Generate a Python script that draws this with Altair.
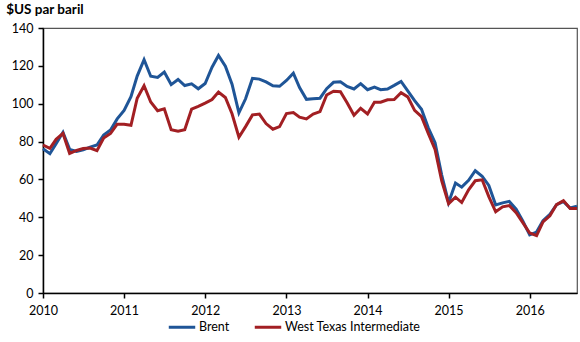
import altair as alt
import pandas as pd

months = pd.date_range("2010-01-01", "2016-08-01", freq="MS").strftime("%Y-%m-%d").tolist()

brent = [
    76.2, 73.6, 78.9, 84.9, 75.9, 74.8, 75.6, 77.1, 78.2, 83.5, 86.1, 92.0,
    96.5, 103.7, 114.6, 123.3, 114.5, 113.9, 116.7, 110.1, 112.8, 109.6, 110.5, 107.9,
    110.7, 119.3, 125.5, 119.8, 110.3, 95.2, 102.6, 113.4, 113.0, 111.5, 109.5, 109.2,
    112.3, 116.1, 108.5, 102.3, 102.6, 102.9, 107.9, 111.3, 111.6, 109.1, 107.8, 110.6,
    107.4, 108.8, 107.4, 107.8, 109.7, 111.8, 106.8, 101.6, 97.1, 87.4, 79.4, 62.3,
    47.8, 58.1, 55.9, 59.5, 64.6, 61.7, 56.8, 46.5, 47.6, 48.4, 44.3, 38.0,
    30.7, 32.2, 38.2, 41.6, 46.7, 48.3, 44.9, 45.8,
]
wti = [
    78.2, 76.4, 81.2, 84.3, 73.7, 75.3, 76.3, 76.6, 75.2, 81.9, 84.3, 89.2,
    89.2, 88.6, 102.9, 109.5, 100.9, 96.3, 97.3, 86.3, 85.5, 86.3, 97.2, 98.6,
    100.3, 102.2, 106.2, 103.3, 94.7, 82.3, 87.9, 94.1, 94.5, 89.5, 86.5, 87.9,
    94.8, 95.3, 92.9, 92.0, 94.5, 95.8, 104.6, 106.6, 106.3, 100.5, 93.9, 97.6,
    94.6, 100.8, 100.8, 102.1, 102.2, 105.8, 103.6, 96.5, 93.2, 84.4, 75.8, 59.3,
    47.2, 50.6, 47.8, 54.5, 59.3, 59.8, 50.9, 42.9, 45.5, 46.2, 42.4, 37.2,
    31.7, 30.3, 37.6, 40.8, 46.7, 48.8, 44.7, 44.7,
]
series_names = ["Brent", "West Texas Intermediate"]
series_colors = ["#1f5597", "#a21f23"]
y_ticks = [0, 20, 40, 60, 80, 100, 120, 140]
x_ticks = ["2010", "2011", "2012", "2013", "2014", "2015", "2016"]

rows = []
for d, b, w in zip(months, brent, wti):
    rows.append({"date": d, "series": series_names[0], "value": b})
    rows.append({"date": d, "series": series_names[1], "value": w})
df = pd.DataFrame(rows)

FONT = "Lato"

chart = alt.Chart(df).mark_line(strokeWidth=3).encode(
    x=alt.X(
        "date:T",
        scale=alt.Scale(domain=["2010-01-01", "2016-08-01"]),
        axis=alt.Axis(
            title=None,
            values=[f"{y}-01-01" for y in x_ticks],
            format="%Y",
            labelExpr="timeFormat(datum.value, '%Y')",
            tickSize=5,
            labelPadding=6,
            labelAlign="center",
            grid=False,
        ),
    ),
    y=alt.Y(
        "value:Q",
        scale=alt.Scale(domain=[0, 140], nice=False),
        axis=alt.Axis(title=None, values=y_ticks, tickSize=5, labelPadding=5, grid=False),
    ),
    color=alt.Color(
        "series:N",
        scale=alt.Scale(domain=series_names, range=series_colors),
        legend=alt.Legend(
            title=None,
            orient="none",
            legendX=124,
            legendY=284,
            direction="horizontal",
            symbolType="stroke",
            symbolSize=700,
            symbolStrokeWidth=3,
            labelFontSize=12.5,
            labelFont=FONT,
            labelOffset=2,
            columnPadding=18,
        ),
    ),
).properties(
    width=534,
    height=265,
    title=alt.TitleParams(
        "$US par baril",
        anchor="start",
        dx=-5,
        offset=6,
        fontSize=13.5,
        font=FONT,
        fontWeight="bold",
        color="#000000",
    ),
    autosize=alt.AutoSizeParams(type="none"),
    padding={"left": 43, "top": 28, "right": 3, "bottom": 49},
).configure_view(
    stroke="#555555", strokeWidth=1.2
).configure_axis(
    domainColor="#000000",
    domainWidth=1.5,
    tickColor="#000000",
    tickWidth=1.5,
    labelFont=FONT,
    labelFontSize=12.5,
    labelColor="#000000",
)

chart.save("out.html", embed_options={"renderer": "svg", "actions": False})
